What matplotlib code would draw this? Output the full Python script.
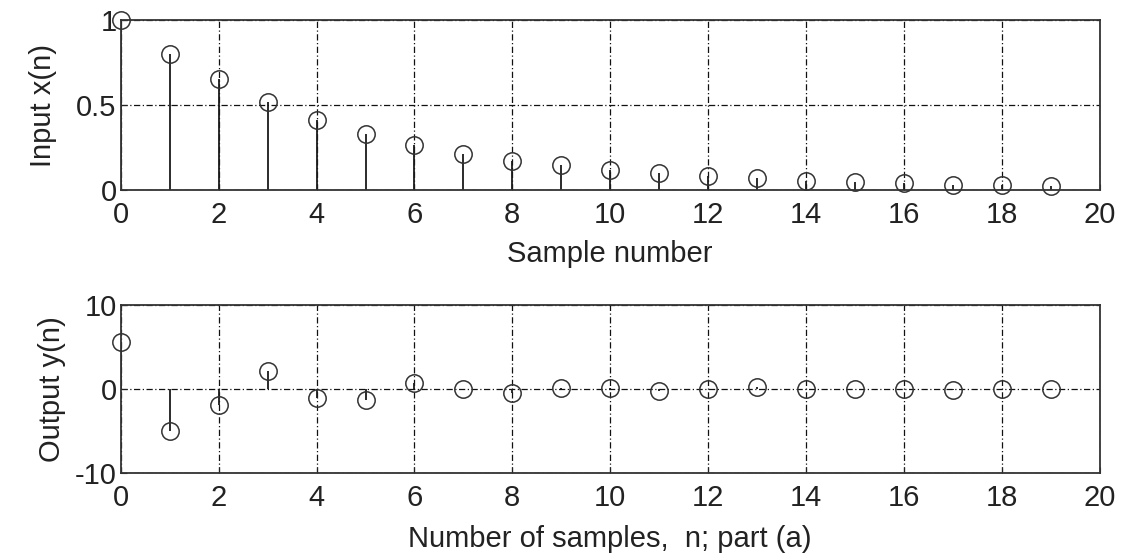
import matplotlib
matplotlib.use("Agg")
import matplotlib.pyplot as plt

plt.rcParams['font.family'] = ['Liberation Sans', 'DejaVu Sans']

# sample index
n = list(range(20))

# input x(n)
x_vals = [1.0, 0.80, 0.655, 0.52, 0.41, 0.33, 0.265, 0.21, 0.17, 0.145,
          0.12, 0.10, 0.085, 0.07, 0.055, 0.045, 0.04, 0.03, 0.03, 0.025]

# output y(n)
y_vals = [5.6, -4.95, -1.87, 2.14, -1.05, -1.33, 0.78, 0.0, -0.5, 0.2,
          0.2, -0.23, 0.0, 0.3, 0.0, 0.0, 0.0, -0.05, 0.0, 0.0]

x_ticks = [0, 2, 4, 6, 8, 10, 12, 14, 16, 18, 20]
top_yticks = [0, 0.5, 1]
top_yticklabels = ['0', '0.5', '1']
bot_yticks = [-10, 0, 10]

text_col = '#222222'
grid_style = (0, (5, 2, 1, 2))
fs = 21

fig = plt.figure(figsize=(11.29, 5.56), dpi=100)
ax1 = fig.add_axes([0.107, 0.658, 0.867, 0.306])
ax2 = fig.add_axes([0.107, 0.149, 0.867, 0.302])


def draw_stem(ax, xs, ys):
    markers, stems, base = ax.stem(xs, ys, linefmt='k-', markerfmt='o', basefmt=' ')
    stems.set_linewidth(1.3)
    stems.set_color('#1a1a1a')
    markers.set_markerfacecolor('none')
    markers.set_markeredgecolor('#333333')
    markers.set_markersize(12.5)
    markers.set_markeredgewidth(1.1)
    markers.set_clip_on(False)


def style_axes(ax, yticks, ylabels, ylim):
    ax.set_xlim(0, 20)
    ax.set_ylim(*ylim)
    ax.set_xticks(x_ticks)
    ax.set_yticks(yticks)
    ax.set_yticklabels(ylabels)
    ax.grid(True, color='#111111', linestyle=grid_style, linewidth=0.9)
    ax.set_axisbelow(True)
    ax.tick_params(direction='in', length=4, labelsize=fs, colors=text_col)
    ax.tick_params(axis='x', pad=8)
    ax.tick_params(axis='y', pad=3)
    for sp in ax.spines.values():
        sp.set_color('#333333')
        sp.set_linewidth(1.3)


draw_stem(ax1, n, x_vals)
style_axes(ax1, top_yticks, top_yticklabels, (0, 1))
ax1.set_ylabel('Input x(n)', fontsize=fs, color=text_col, labelpad=14)
ax1.set_xlabel('Sample number', fontsize=fs, color=text_col, labelpad=8)

draw_stem(ax2, n, y_vals)
style_axes(ax2, bot_yticks, [str(v) for v in bot_yticks], (-10, 10))
ax2.set_ylabel('Output y(n)', fontsize=fs, color=text_col, labelpad=6)
ax2.set_xlabel('Number of samples,  n; part (a)', fontsize=fs, color=text_col, labelpad=9)

fig.savefig('out.png', dpi=100)
